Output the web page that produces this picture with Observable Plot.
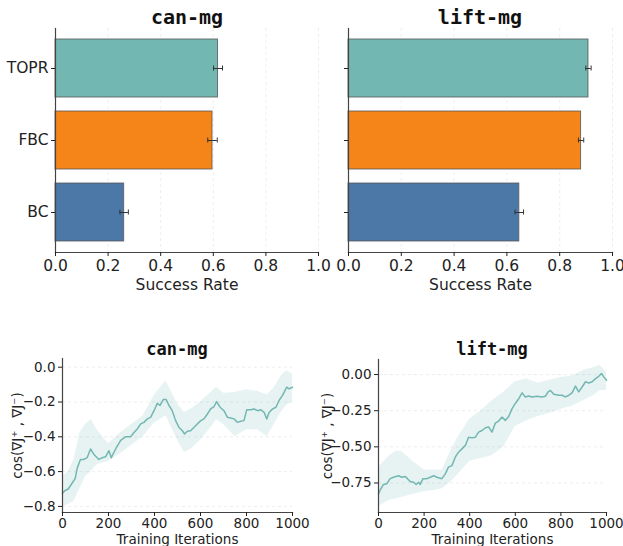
<!DOCTYPE html>
<html>
<head>
<meta charset="utf-8">
<script src="https://cdn.jsdelivr.net/npm/d3@7"></script>
<script src="https://cdn.jsdelivr.net/npm/@observablehq/plot@0.6"></script>
<style>
  html, body { margin: 0; padding: 0; background: #fff; }
  #root { position: relative; width: 623px; height: 546px; overflow: hidden; font-family: "DejaVu Sans", sans-serif; }
  .panel { position: absolute; }
  .panel svg text { font-family: "DejaVu Sans", sans-serif; fill: #222; }
  .top svg text { font-size: 15.5px; }
  .bottom svg text { font-size: 13.5px; }
  .title { position: absolute; font-family: "DejaVu Sans Mono", monospace; font-weight: bold; color: #111; transform: translate(-50%, -50%); white-space: nowrap; }
</style>
</head>
<body>
<div id="root"></div>
<script>
// ---- data ----
const methods = ["TOPR", "FBC", "BC"];
const methodColors = ["#72b7b2", "#f58518", "#4c78a8"];
const canSuccess = [0.618, 0.597, 0.261];
const canErr = [0.017, 0.018, 0.016];
const liftSuccess = [0.909, 0.881, 0.647];
const liftErr = [0.010, 0.010, 0.016];
const successTicks = [0, 0.2, 0.4, 0.6, 0.8, 1.0];

const canIter = [0,10,25,40,55,64,78,93,107,122,136,158,173,187,202,212,231,253,274,296,311,325,340,354,369,383,398,412,424,438,451,463,477,492,506,521,531,543,557,572,586,601,615,630,644,659,670,685,702,717,731,746,760,775,789,801,819,833,848,862,877,888,898,913,928,942,956,975,985,1000];
const canCos = [-0.725,-0.71,-0.70,-0.67,-0.64,-0.58,-0.53,-0.53,-0.52,-0.47,-0.50,-0.53,-0.52,-0.515,-0.48,-0.52,-0.47,-0.42,-0.40,-0.40,-0.375,-0.355,-0.326,-0.317,-0.297,-0.288,-0.25,-0.207,-0.22,-0.186,-0.186,-0.22,-0.25,-0.307,-0.345,-0.365,-0.384,-0.368,-0.365,-0.345,-0.326,-0.307,-0.297,-0.269,-0.24,-0.226,-0.198,-0.23,-0.25,-0.288,-0.292,-0.297,-0.317,-0.311,-0.307,-0.245,-0.245,-0.24,-0.25,-0.245,-0.26,-0.297,-0.26,-0.24,-0.23,-0.19,-0.163,-0.115,-0.125,-0.115];
const canBandIter = [0,25,50,75,100,125,150,200,250,300,350,400,450,500,530,560,600,650,670,700,750,800,850,890,920,950,975,1000];
const canBandLo = [-0.80,-0.79,-0.77,-0.70,-0.63,-0.60,-0.56,-0.54,-0.50,-0.45,-0.40,-0.32,-0.28,-0.42,-0.49,-0.47,-0.42,-0.34,-0.30,-0.33,-0.40,-0.36,-0.36,-0.40,-0.33,-0.26,-0.22,-0.20];
const canBandHi = [-0.63,-0.60,-0.53,-0.38,-0.33,-0.30,-0.36,-0.44,-0.38,-0.33,-0.28,-0.16,-0.08,-0.21,-0.26,-0.24,-0.20,-0.14,-0.115,-0.15,-0.145,-0.13,-0.14,-0.16,-0.12,-0.05,-0.02,-0.04];
const canTicksY = [0, -0.2, -0.4, -0.6, -0.8];

const liftIter = [0,7,22,37,51,66,88,102,117,127,139,154,165,176,183,195,212,227,242,256,278,293,307,322,337,351,366,381,395,410,425,439,454,469,483,498,512,527,542,556,571,586,600,615,630,644,659,673,695,717,732,744,754,769,791,805,820,835,849,864,878,893,908,922,937,952,966,978,988,1000];
const liftCos = [-0.826,-0.80,-0.76,-0.755,-0.72,-0.71,-0.70,-0.71,-0.705,-0.72,-0.74,-0.745,-0.76,-0.745,-0.76,-0.72,-0.72,-0.71,-0.70,-0.71,-0.72,-0.687,-0.64,-0.63,-0.57,-0.537,-0.514,-0.49,-0.433,-0.438,-0.433,-0.398,-0.387,-0.368,-0.363,-0.398,-0.336,-0.322,-0.294,-0.317,-0.29,-0.236,-0.20,-0.167,-0.127,-0.155,-0.148,-0.155,-0.150,-0.155,-0.150,-0.12,-0.11,-0.137,-0.143,-0.143,-0.155,-0.143,-0.127,-0.08,-0.12,-0.086,-0.05,-0.058,-0.05,-0.028,-0.012,0.007,-0.016,-0.04];
const liftBandIter = [0,25,50,75,100,150,200,250,280,320,350,400,450,500,550,600,650,700,750,800,850,900,950,970,1000];
const liftBandLo = [-0.91,-0.89,-0.87,-0.86,-0.85,-0.83,-0.81,-0.80,-0.79,-0.74,-0.69,-0.60,-0.58,-0.56,-0.50,-0.36,-0.32,-0.29,-0.27,-0.24,-0.22,-0.18,-0.14,-0.11,-0.11];
const liftBandHi = [-0.64,-0.60,-0.56,-0.53,-0.53,-0.60,-0.66,-0.66,-0.66,-0.52,-0.43,-0.31,-0.25,-0.18,-0.12,-0.05,-0.03,-0.06,-0.04,-0.02,-0.01,0.03,0.05,0.065,0.02];
const liftTicksY = [0, -0.25, -0.5, -0.75];
const iterTicks = [0, 200, 400, 600, 800, 1000];

const yLabel = "cos(\u2207J\u207A , \u2207J\u207B)";
const lineColor = "#72b7b2";

// ---- helpers ----
const root = document.getElementById("root");
function place(node, left, top, cls) {
  const d = document.createElement("div");
  d.className = "panel " + cls;
  d.style.left = left + "px";
  d.style.top = top + "px";
  d.appendChild(node);
  root.appendChild(d);
}
function addTitle(text, cx, cy, size) {
  const t = document.createElement("div");
  t.className = "title";
  t.textContent = text;
  t.style.left = cx + "px";
  t.style.top = cy + "px";
  t.style.fontSize = size + "px";
  root.appendChild(t);
}

function barPanel(values, errs, opts) {
  const rows = methods.map((m, i) => ({m, v: values[i], e: errs[i], c: methodColors[i]}));
  return Plot.plot({
    width: opts.width, height: 300,
    marginLeft: opts.marginLeft, marginRight: opts.marginRight, marginTop: 28, marginBottom: 48,
    style: {fontFamily: "DejaVu Sans", fontSize: "15px", color: "#222", overflow: "visible", background: "transparent"},
    x: {domain: [0, 1]},
    y: {domain: methods, paddingInner: 0.2, paddingOuter: 0.14},
    marks: [
      Plot.gridX(successTicks.slice(1), {stroke: "#ccc", strokeOpacity: 0.45, strokeDasharray: "3,3", strokeWidth: 0.8}),
      Plot.barX(rows, {x: "v", y: "m", fill: "c", fillOpacity: 1, stroke: "#555", strokeOpacity: 0.8, strokeWidth: 1}),
      Plot.ruleY(rows, {x1: d => d.v - d.e, x2: d => d.v + d.e, y: "m", stroke: "#333", strokeWidth: 1}),
      Plot.tickX(rows, {x: d => d.v - d.e, y: "m", stroke: "#333", strokeWidth: 1, insetTop: 26.5, insetBottom: 26.5}),
      Plot.tickX(rows, {x: d => d.v + d.e, y: "m", stroke: "#333", strokeWidth: 1, insetTop: 26.5, insetBottom: 26.5}),
      Plot.frame({anchor: "left", stroke: "#444", strokeWidth: 1.2}),
      Plot.frame({anchor: "bottom", stroke: "#444", strokeWidth: 1.2}),
      Plot.axisX(successTicks, {tickSize: 4, tickPadding: 3, tickFormat: d3.format(".1f"), label: "Success Rate", labelAnchor: "center", labelArrow: "none", labelOffset: 37}),
      Plot.axisY({tickSize: 4, tickPadding: 3, label: null, tickFormat: opts.showCats ? (d => d) : (() => "")})
    ]
  });
}

function linePanel(iter, vals, bIter, bLo, bHi, yDomain, yTicks, fmt, opts) {
  const line = iter.map((t, i) => ({t, v: vals[i]}));
  const band = bIter.map((t, i) => ({t, lo: bLo[i], hi: bHi[i]}));
  return Plot.plot({
    width: opts.width, height: 216,
    marginLeft: opts.marginLeft, marginRight: opts.marginRight, marginTop: opts.marginTop, marginBottom: 34,
    style: {fontFamily: "DejaVu Sans", fontSize: "13px", color: "#222", overflow: "visible", background: "transparent"},
    x: {domain: [0, 1000]},
    y: {domain: yDomain},
    marks: [
      Plot.gridY(yTicks, {stroke: "#ccc", strokeOpacity: 0.45, strokeDasharray: "3,3", strokeWidth: 0.8}),
      Plot.areaY(band, {x: "t", y1: "lo", y2: "hi", fill: lineColor, fillOpacity: 0.17}),
      Plot.lineY(line, {x: "t", y: "v", stroke: lineColor, strokeWidth: 1.5}),
      Plot.frame({anchor: "left", stroke: "#444", strokeWidth: 1.2}),
      Plot.frame({anchor: "bottom", stroke: "#444", strokeWidth: 1.2}),
      Plot.axisX(iterTicks, {tickSize: 4, tickPadding: 2, tickFormat: d => String(d), label: "Training Iterations", labelAnchor: "center", labelArrow: "none", labelOffset: 31}),
      Plot.axisY(yTicks, {tickSize: 4, tickPadding: 3, tickFormat: d3.format(fmt), label: yLabel, labelAnchor: "center", labelArrow: "none", labelOffset: opts.labelOffset})
    ]
  });
}

// ---- panels ----
place(barPanel(canSuccess, canErr, {width: 330, marginLeft: 55, marginRight: 12, showCats: true}), 0, 0, "top");
place(barPanel(liftSuccess, liftErr, {width: 293, marginLeft: 18, marginRight: 11, showCats: false}), 330, 0, "top");
addTitle("can-mg", 187, 17, 20);
addTitle("lift-mg", 480, 17, 20);

place(linePanel(canIter, canCos, canBandIter, canBandLo, canBandHi, [-0.835, 0.05], canTicksY, ".1f",
  {width: 310, marginLeft: 62, marginRight: 18, marginTop: 28, labelOffset: 50}), 0, 330, "bottom");
place(linePanel(liftIter, liftCos, liftBandIter, liftBandLo, liftBandHi, [-0.954, 0.104], liftTicksY, ".2f",
  {width: 313, marginLeft: 68, marginRight: 17, marginTop: 29, labelOffset: 56}), 310, 330, "bottom");
addTitle("can-mg", 177, 349, 17);
addTitle("lift-mg", 492, 349, 17);
</script>
</body>
</html>
